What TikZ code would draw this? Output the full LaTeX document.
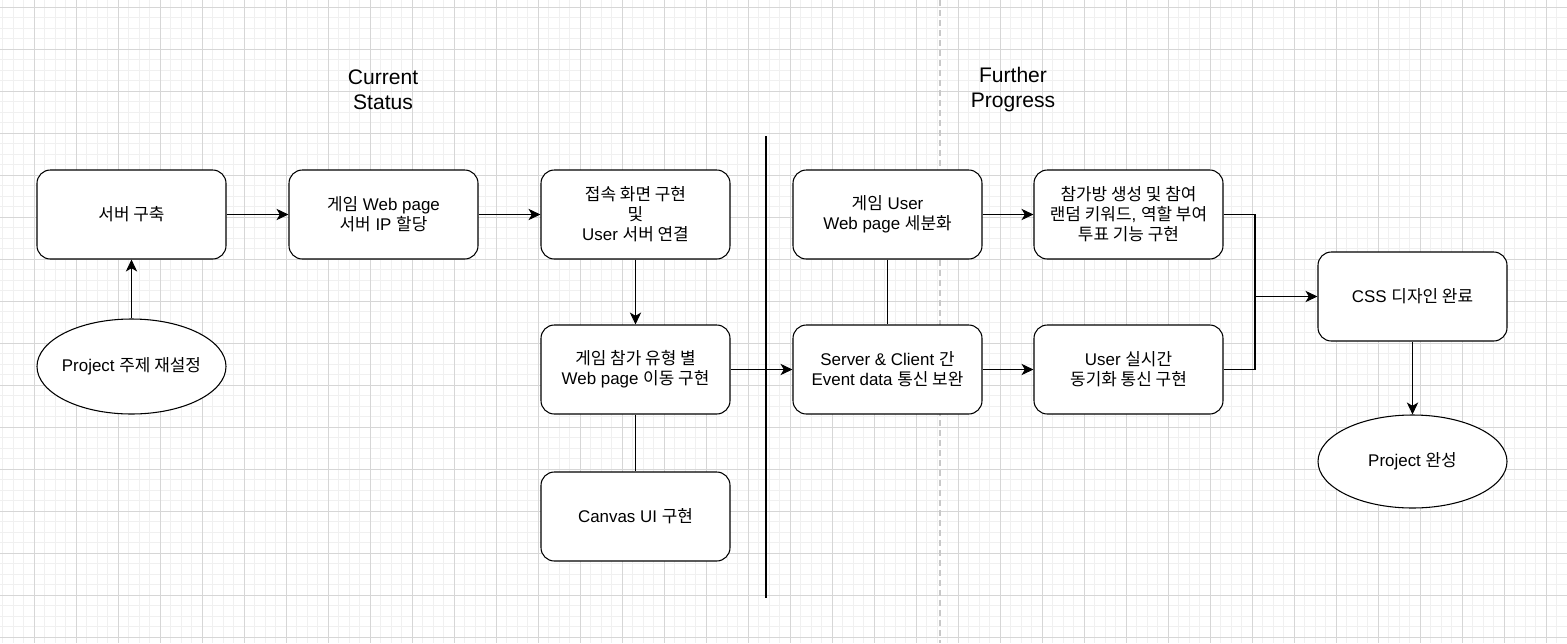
\documentclass[tikz,border=0pt]{standalone}
\usepackage{fontspec}
\setmainfont{Liberation Sans}
\newfontfamily\kr{Noto Sans CJK KR}
\usetikzlibrary{shapes.geometric,arrows.meta,calc}
\definecolor{minorgrid}{HTML}{F0F0F0}
\definecolor{majorgrid}{HTML}{D6D6D6}
\definecolor{dashgray}{HTML}{C8C8C8}
\tikzset{
  box/.style={draw, rounded corners=10pt, minimum width=141.75pt, minimum height=66.75pt,
    align=center, fill=white, inner sep=0pt, line width=0.8pt,
    font=\fontsize{12.7pt}{15pt}\selectfont},
  ell/.style={draw, ellipse, minimum width=141.75pt, minimum height=71.25pt,
    align=center, fill=white, inner xsep=-6pt, inner ysep=0pt, line width=0.8pt,
    font=\fontsize{12.7pt}{15pt}\selectfont},
  title/.style={align=center, font=\fontsize{15.8pt}{18.75pt}\selectfont},
  conn/.style={line width=0.8pt},
  arr/.style={line width=0.8pt, -{Stealth[length=9pt,width=8.5pt,inset=2.5pt]}}
}
\begin{document}
\begin{tikzpicture}[x=0.75pt,y=-0.75pt]
\useasboundingbox (0,0) rectangle (1567,643);
\fill[white] (0,0) rectangle (1567,643);
% grid
\foreach \i in {0,...,149} { \draw[minorgrid, line width=0.75pt] ({2.8+10.5*\i},0) -- ++(0,643); }
\foreach \j in {0,...,61} { \draw[minorgrid, line width=0.75pt] (0,{7+10.5*\j}) -- ++(1567,0); }
\foreach \i in {0,...,37} { \draw[majorgrid, line width=0.75pt] ({34.3+42*\i},0) -- ++(0,643); }
\foreach \j in {0,...,15} { \draw[majorgrid, line width=0.75pt] (0,{7+42*\j}) -- ++(1567,0); }
% dashed separator
\coordinate (dtop) at (940,0);
\coordinate (dbot) at (940,643);
\draw[dashgray, line width=1pt, dash pattern=on 4.5pt off 3pt] (dtop) -- (dbot);
% thick separator
\coordinate (stop) at (766,136);
\coordinate (sbot) at (766,598);
\draw[line width=1.8pt] (stop) -- (sbot);
% titles
\node[title] (t1) at (383,90) {Current\\Status};
\node[title] (t2) at (1013,90) {Further\\Progress};
% nodes
\node[box] (n1) at (131.5,214.5) {{\kr 서버 구축}};
\node[box] (n2) at (383.5,214.5) {{\kr 게임} Web page\\{\kr 서버} IP {\kr 할당}};
\node[box] (n3) at (635.5,214.5) {{\kr 접속 화면 구현}\\{\kr 및}\\User {\kr 서버 연결}};
\node[box] (n4) at (635.5,369.5) {{\kr 게임 참가 유형 별}\\Web page {\kr 이동 구현}};
\node[box] (n5) at (635.5,516.5) {Canvas UI {\kr 구현}};
\node[ell] (e1) at (131.5,366.5) {Project {\kr 주제 재설정}};
\node[box] (m1) at (887.5,214.5) {{\kr 게임} User\\Web page {\kr 세분화}};
\node[box] (m2) at (887.5,369.5) {Server \& Client {\kr 간}\\Event data {\kr 통신 보완}};
\node[box] (p1) at (1128.5,214.5) {{\kr 참가방 생성 및 참여}\\{\kr 랜덤 키워드}, {\kr 역할 부여}\\{\kr 투표 기능 구현}};
\node[box] (p2) at (1128.5,369.5) {User {\kr 실시간}\\{\kr 동기화 통신 구현}};
\node[box] (css) at (1412.5,296.5) {CSS {\kr 디자인 완료}};
\node[ell, minimum height=69.75pt] (e2) at (1412.5,461.5) {Project {\kr 완성}};
% connectors
\draw[arr] (n1) -- (n2);
\draw[arr] (n2) -- (n3);
\draw[arr] (n3) -- (n4);
\draw[conn] (n4) -- (n5);
\draw[arr] (e1) -- (n1);
\draw[arr] (n4) -- (m2);
\draw[conn] (m1) -- (m2);
\draw[arr] (m1) -- (p1);
\draw[arr] (m2) -- (p2);
\coordinate (j) at (1255,296.5);
\draw[conn] (p1.east) -| (j);
\draw[conn] (p2.east) -| (j);
\draw[arr] (j) -- (css.west);
\draw[arr] (css) -- (e2);
\end{tikzpicture}
\end{document}
